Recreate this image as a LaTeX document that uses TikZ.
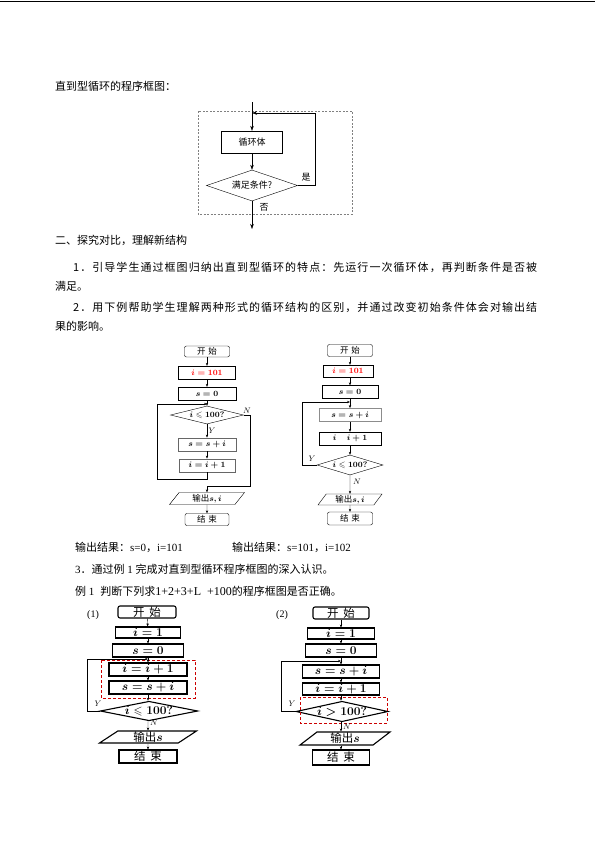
\documentclass[tikz,border=0pt]{standalone}
\usepackage{fontspec}
\usepackage{amssymb}
\setmainfont{Liberation Serif}
\newfontfamily\zh{Noto Sans CJK SC}
\usetikzlibrary{shapes.geometric,arrows.meta}

% spread a line of characters over a fixed width
\newcommand\spreadline[2]{\hbox to #1{\spreadfirst#2\relax}}
\def\spreadfirst#1{#1\spreadrest}
\def\spreadrest#1{\ifx\relax#1\else\hfil#1\expandafter\spreadrest\fi}

\tikzset{
  prog/.style={draw,inner sep=0pt},
  startbox/.style={prog,rounded corners=2pt},
  testbox/.style={prog,diamond,aspect=3},
  iobox/.style={prog,trapezium,trapezium left angle=60,trapezium right angle=120,trapezium stretches=true},
  flow/.style={-{Stealth[length=3pt,width=2.4pt]}},
  txt/.style={anchor=west,inner sep=0pt,font=\zh\fontsize{11}{13}\selectfont},
  lbl/.style={inner sep=0pt,font=\footnotesize\itshape},
  redframe/.style={draw=red!80!black,dash pattern=on 3pt off 2pt,line width=0.7pt},
}

\begin{document}
\begin{tikzpicture}[x=1pt,y=-1pt]
\useasboundingbox (0,0) rectangle (595,841);
\fill[white] (0,0) rectangle (595,841);
\draw[line width=1pt] (0,1) -- (595,1);

% page text
\node[txt] (t1) at (55,86) {直到型循环的程序框图：};
\node[txt] (t2) at (55,240) {二、探究对比，理解新结构};
\node[txt] (t3) at (73,267) {\spreadline{464pt}{1．引导学生通过框图归纳出直到型循环的特点：先运行一次循环体，再判断条件是否被}};
\node[txt] (t4) at (55,286) {满足。};
\node[txt] (t5) at (73,307) {\spreadline{464pt}{2．用下例帮助学生理解两种形式的循环结构的区别，并通过改变初始条件体会对输出结}};
\node[txt] (t6) at (55,326) {果的影响。};
\node[txt] (t7) at (75,547) {输出结果：{\rmfamily s=0}，{\rmfamily i=101}};
\node[txt] (t8) at (232,547) {输出结果：{\rmfamily s=101}，{\rmfamily i=102}};
\node[txt] (t9) at (75,569) {{\rmfamily 3}．通过例{\rmfamily\ 1\ }完成对直到型循环程序框图的深入认识。};
\node[txt] (t10) at (75,591) {例{\rmfamily\ 1}\hspace{6pt}判断下列求{\rmfamily\fontsize{12}{13}\selectfont 1+2+3+L\ \ +100}的程序框图是否正确。};

% until-loop scheme
\begin{scope}[font=\zh\fontsize{9}{10}\selectfont,>={Stealth[length=5pt,width=3.5pt]}]
\draw[gray,line width=0.6pt,dash pattern=on 2pt off 1.5pt] (198,111) rectangle (352,214);
\node[prog,minimum width=61,minimum height=22] (body) at (252,142) {循环体};
\node[testbox,minimum width=91,minimum height=31] (cond) at (252,185.5) {满足条件?};
\coordinate (entry) at (252,102);
\coordinate (exit) at (252,229);
\coordinate (back) at (315,113);
\coordinate (join) at (252,113);
\draw[->] (entry) -- (body);
\draw[->] (body) -- (cond);
\draw[->] (cond.east) -| (back) -- (join);
\draw[->] (cond) -- (exit);
\node (yes) at (306,177) {是};
\node (no) at (264,207) {否};
\end{scope}

% example 2, left
\begin{scope}[shift={(207,0)},font=\fontsize{8.5}{9}\selectfont\boldmath]
\node[startbox,minimum width=45,minimum height=11] (lm-start) at (0,351.5) {\zh 开\hspace{3pt}始};
\node[prog,minimum width=57,minimum height=13,text=red] (lm-init) at (0,372.5) {$i=101$};
\node[prog,minimum width=58,minimum height=13] (lm-s0) at (0,393.5) {$s=0$};
\node[testbox,aspect=4,minimum width=73,minimum height=18] (lm-test) at (0,415) {$i\leqslant100?$};
\node[prog,draw=black!60,line width=0.9pt,minimum width=58,minimum height=13] (lm-sum) at (0,444.5) {$s=s+i$};
\node[prog,draw=black!60,line width=0.9pt,minimum width=56,minimum height=13] (lm-inc) at (0,465.5) {$i=i+1$};
\node[iobox,minimum width=75,minimum height=12] (lm-out) at (0,498.5) {{\zh 输出}$s,i$};
\node[startbox,minimum width=44,minimum height=12] (lm-end) at (0,519.5) {\zh 结\hspace{3pt}束};
\coordinate (lm-join) at (0,404);
\coordinate (lm-rt) at (43,486);
\draw[flow] (lm-start) -- (lm-init);
\draw[flow] (lm-init) -- (lm-s0);
\draw[flow] (lm-s0) -- (lm-test);
\draw[flow] (lm-test) -- (lm-sum);
\draw[flow] (lm-sum) -- (lm-inc);
\draw[flow] (lm-inc.south) -- ++(0,7) -| ([xshift=-50]lm-join) -- (lm-join);
\draw[flow] (lm-test.east) -| (lm-rt) -| (lm-out.north);
\draw[flow] (lm-out) -- (lm-end);
\node[lbl] (lm-n) at (40,411) {$N$};
\node[lbl] (lm-y) at (5,431) {$Y$};
\end{scope}

% example 2, right
\begin{scope}[shift={(350,0)},font=\fontsize{8.5}{9}\selectfont\boldmath]
\node[startbox,minimum width=45,minimum height=12] (rm-start) at (0,350.5) {\zh 开\hspace{3pt}始};
\node[prog,minimum width=50,minimum height=12,text=red] (rm-init) at (-2,371) {$i=101$};
\node[prog,minimum width=56,minimum height=13] (rm-s0) at (0,392) {$s=0$};
\node[prog,draw=black!45,line width=0.9pt,minimum width=62,minimum height=13] (rm-sum) at (0,415) {$s=s+i$};
\node[prog,minimum width=62,minimum height=13] (rm-inc) at (0,438.5) {$i\quad\ i+1$};
\node[testbox,aspect=3.3,minimum width=66,minimum height=20] (rm-test) at (0,465) {$i\leqslant100?$};
\node[iobox,minimum width=64,minimum height=11] (rm-out) at (0,499.5) {{\zh 输出}$s,i$};
\node[startbox,minimum width=45,minimum height=13] (rm-end) at (0,518.5) {\zh 结\hspace{3pt}束};
\coordinate (rm-join) at (0,402);
\draw[flow] (rm-start) -- (rm-init.north -| rm-start);
\draw[flow] (rm-init.south -| rm-start) -- (rm-s0);
\draw[flow] (rm-s0) -- (rm-sum);
\draw[flow] (rm-sum) -- (rm-inc);
\draw[flow] (rm-inc) -- (rm-test);
\draw[flow] (rm-test.west) -| ([xshift=-48]rm-join) -- (rm-join);
\draw[flow] (rm-test) -- (rm-out);
\draw[flow] (rm-out) -- (rm-end);
\node[lbl] (rm-y) at (-38,459) {$Y$};
\node[lbl] (rm-n) at (7,482) {$N$};
\end{scope}

% example 1 (1)
\begin{scope}[shift={(148,0)},font=\fontsize{11.5}{12}\selectfont\boldmath,prog/.append style={line width=1.1pt}]
\node[font=\fontsize{10}{12}\selectfont] (lb-tag) at (-55,615) {(1)};
\node[startbox,minimum width=58,minimum height=12] (lb-start) at (-1,612) {\zh 开\hspace{5pt}始};
\node[prog,minimum width=65,minimum height=11] (lb-init) at (0,632.5) {$i=1$};
\node[prog,minimum width=71,minimum height=13] (lb-s0) at (0,650.5) {$s=0$};
\node[prog,minimum width=78,minimum height=13] (lb-inc) at (0,669.5) {$i=i+1$};
\node[prog,minimum width=78,minimum height=13] (lb-sum) at (0,687.5) {$s=s+i$};
\node[testbox,aspect=5,minimum width=88,minimum height=18] (lb-test) at (1,711) {$i\leqslant100?$};
\node[iobox,trapezium left angle=50,trapezium right angle=130,minimum width=97,minimum height=12] (lb-out) at (0,737) {{\zh 输出}$s$};
\node[prog,minimum width=58,minimum height=13] (lb-end) at (0,756.5) {\zh 结\hspace{5pt}束};
\draw[redframe] (-47,660) rectangle (47,698);
\coordinate (lb-join) at (0,659);
\draw[flow] (lb-start) -- (lb-init);
\draw[flow] (lb-init) -- (lb-s0);
\draw[flow] (lb-s0) -- (lb-inc);
\draw[flow] (lb-inc) -- (lb-sum);
\draw[flow] (lb-sum) -- (lb-test.north -| lb-sum);
\draw[flow] (lb-test.west) -| ([xshift=-61]lb-join) -- (lb-join);
\draw[flow] (lb-test.south -| lb-out) -- (lb-out);
\draw[flow] (lb-out) -- (lb-end);
\node[lbl] (lb-y) at (-50,704) {$Y$};
\node[lbl] (lb-n) at (6,723) {$N$};
\end{scope}

% example 1 (2)
\begin{scope}[shift={(341,0)},font=\fontsize{11.5}{12}\selectfont\boldmath,prog/.append style={line width=1.1pt}]
\node[font=\fontsize{10}{12}\selectfont] (rb-tag) at (-59,615) {(2)};
\node[startbox,minimum width=56,minimum height=12] (rb-start) at (0,613) {\zh 开\hspace{5pt}始};
\node[prog,minimum width=67,minimum height=11] (rb-init) at (0,633.5) {$i=1$};
\node[prog,minimum width=71,minimum height=13] (rb-s0) at (0,650.5) {$s=0$};
\node[prog,minimum width=77,minimum height=13] (rb-sum) at (0,671.5) {$s=s+i$};
\node[prog,minimum width=77,minimum height=12] (rb-inc) at (0,689) {$i=i+1$};
\node[testbox,aspect=4.5,minimum width=84,minimum height=19] (rb-test) at (1,711.5) {$i>100?$};
\node[iobox,trapezium left angle=50,trapezium right angle=130,minimum width=90,minimum height=13] (rb-out) at (4,738.5) {{\zh 输出}$s$};
\node[prog,minimum width=57,minimum height=15] (rb-end) at (0,757.5) {\zh 结\hspace{5pt}束};
\draw[redframe] (-41,697) rectangle (46,723);
\coordinate (rb-join) at (0,661);
\draw[flow] (rb-start) -- (rb-init);
\draw[flow] (rb-init) -- (rb-s0);
\draw[flow] (rb-s0) -- (rb-sum);
\draw[flow] (rb-sum) -- (rb-inc);
\draw[flow] (rb-inc) -- (rb-test.north -| rb-inc);
\draw[flow] (rb-test.west) -| ([xshift=-60]rb-join) -- (rb-join);
\draw[flow] (rb-test.south -| rb-inc) -- (rb-out.north -| rb-inc);
\draw[flow] (rb-out.south -| rb-inc) -- (rb-end);
\node[lbl] (rb-y) at (-49,704) {$Y$};
\node[lbl] (rb-n) at (6,727) {$N$};
\end{scope}
\end{tikzpicture}
\end{document}
